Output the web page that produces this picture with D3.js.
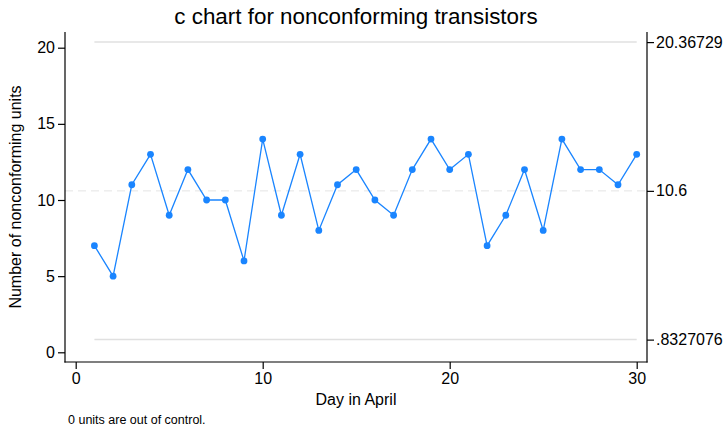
<!DOCTYPE html>
<html>
<head>
<meta charset="utf-8">
<script src="https://cdn.jsdelivr.net/npm/d3@7"></script>
<style>
  body { margin: 0; background: #fff; }
  text { font-family: "Liberation Sans", Arial, sans-serif; fill: #000; }
</style>
</head>
<body>
<div id="chart"></div>
<script>
var days = d3.range(1, 31);
var counts = [7, 5, 11, 13, 9, 12, 10, 10, 6, 14, 9, 13, 8, 11, 12, 10, 9, 12, 14, 12, 13, 7, 9, 12, 8, 14, 12, 12, 11, 13];
var xTicks = [0, 10, 20, 30];
var yTicks = [0, 5, 10, 15, 20];
var centerLine = 10.6;
var ucl = 20.36729;
var lcl = 0.8327076;
var limitLabels = ["20.36729", "10.6", ".8327076"];

var w = 725, h = 428;
var plotLeft = 65, plotRight = 647, plotTop = 32, plotBottom = 362;

var svg = d3.select("#chart").append("svg")
    .attr("width", w)
    .attr("height", h);

// scales fitted to the pixel positions of the reference ticks
var xScale = d3.scaleLinear().domain([0, 30]).range([75.7, 636.7]);
var yScale = d3.scaleLinear().domain([0, 20]).range([352.3, 47.7]);

// control limits
svg.append("line")
    .attr("x1", xScale(1)).attr("x2", xScale(30))
    .attr("y1", yScale(ucl)).attr("y2", yScale(ucl))
    .attr("stroke", "#e0e0e0").attr("stroke-width", 1.5);
svg.append("line")
    .attr("x1", xScale(1)).attr("x2", xScale(30))
    .attr("y1", yScale(lcl)).attr("y2", yScale(lcl))
    .attr("stroke", "#e0e0e0").attr("stroke-width", 1.5);
svg.append("line")
    .attr("x1", plotLeft).attr("x2", plotRight)
    .attr("y1", yScale(centerLine)).attr("y2", yScale(centerLine))
    .attr("stroke", "#e4e4e4").attr("stroke-width", 1)
    .attr("stroke-dasharray", "8,5");

// data line
var line = d3.line()
    .x(function(d, i) { return xScale(days[i]); })
    .y(function(d) { return yScale(d); });

svg.append("path")
    .datum(counts)
    .attr("d", line)
    .attr("fill", "none")
    .attr("stroke", "#1a85ff")
    .attr("stroke-width", 1.3);

svg.selectAll("circle")
    .data(counts)
    .enter()
    .append("circle")
    .attr("cx", function(d, i) { return xScale(days[i]); })
    .attr("cy", function(d) { return yScale(d); })
    .attr("r", 3.4)
    .attr("fill", "#1a85ff");

// left axis
var yAxis = d3.axisLeft(yScale).tickValues(yTicks).tickSize(7).tickPadding(3).tickFormat(d3.format("d"));
var gy = svg.append("g").attr("transform", "translate(" + plotLeft + ",0)").call(yAxis);
gy.select(".domain").remove();
gy.append("line").attr("x1", 0).attr("x2", 0).attr("y1", plotTop).attr("y2", plotBottom + 0.5)
    .attr("stroke", "#000").attr("stroke-width", 1.2);

// right axis with limit values
var yAxisR = d3.axisRight(yScale).tickValues([ucl, centerLine, lcl]).tickSize(7).tickPadding(2)
    .tickFormat(function(d, i) { return limitLabels[i]; });
var gr = svg.append("g").attr("transform", "translate(" + plotRight + ",0)").call(yAxisR);
gr.select(".domain").remove();
gr.append("line").attr("x1", 0).attr("x2", 0).attr("y1", plotTop).attr("y2", plotBottom + 0.5)
    .attr("stroke", "#000").attr("stroke-width", 1.2);

// bottom axis
var xAxis = d3.axisBottom(xScale).tickValues(xTicks).tickSize(7).tickPadding(4).tickFormat(d3.format("d"));
var gx = svg.append("g").attr("transform", "translate(0," + plotBottom + ")").call(xAxis);
gx.select(".domain").remove();
gx.append("line").attr("x1", plotLeft - 0.6).attr("x2", plotRight + 0.6).attr("y1", 0).attr("y2", 0)
    .attr("stroke", "#000").attr("stroke-width", 1.2);

svg.selectAll(".tick text").attr("font-size", "16px").attr("font-family", "Liberation Sans, Arial, sans-serif");
svg.selectAll(".tick line").attr("stroke", "#000").attr("stroke-width", 1.2);

// titles
svg.append("text")
    .attr("x", (plotLeft + plotRight) / 2)
    .attr("y", 24)
    .attr("text-anchor", "middle")
    .attr("font-size", "22.4px")
    .text("c chart for nonconforming transistors");

svg.append("text")
    .attr("x", (plotLeft + plotRight) / 2)
    .attr("y", 405)
    .attr("text-anchor", "middle")
    .attr("font-size", "16px")
    .text("Day in April");

svg.append("text")
    .attr("transform", "translate(21," + (plotTop + plotBottom) / 2 + ") rotate(-90)")
    .attr("text-anchor", "middle")
    .attr("font-size", "16px")
    .text("Number of nonconforming units");

svg.append("text")
    .attr("x", 68)
    .attr("y", 424)
    .attr("font-size", "12.5px")
    .text("0 units are out of control.");
</script>
</body>
</html>
